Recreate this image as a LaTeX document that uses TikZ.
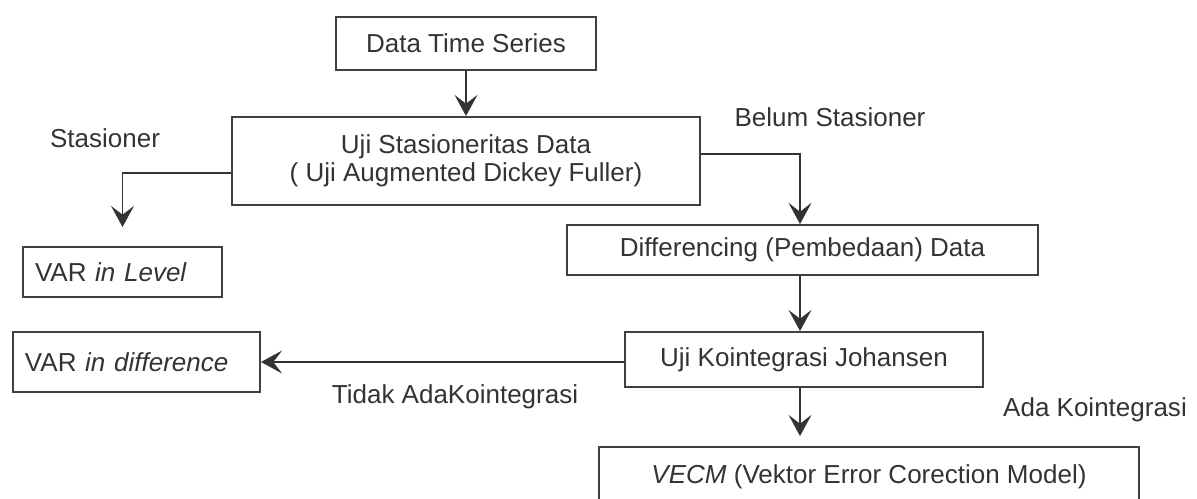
\documentclass[tikz,border=0pt]{standalone}
\usepackage{fontspec}
\setmainfont{Liberation Sans}
\usetikzlibrary{arrows.meta}

\begin{document}
\begin{tikzpicture}
\tikzstyle{box}=[draw=black!75,line width=1.1pt,inner sep=0pt,align=center,text=black!80,font=\fontsize{14.8}{16}\selectfont]
\tikzstyle{lbl}=[inner sep=0pt,text=black!80,font=\fontsize{14.8}{16}\selectfont]
\tikzstyle{arr}=[draw=black!80,line width=1.1pt,-{Stealth[length=12pt,width=13pt,inset=5pt]}]
\useasboundingbox (0,0) rectangle (23.94,-9.96);
\clip (0,0) rectangle (23.94,-9.96);
\node [box,minimum width=5.2cm,minimum height=1.06cm] (dts) at (9.32,-0.87) {Data Time Series};
\node [box,minimum width=9.36cm,minimum height=1.76cm] (uji) at (9.32,-3.22) {Uji Stasioneritas Data\\( Uji Augmented Dickey Fuller)};
\node [box,text width=3.5cm,inner xsep=0.24cm,minimum height=1.0cm,align=left] (lvl) at (2.45,-5.44) {VAR \textit{in Level}};
\node [box,minimum width=9.42cm,minimum height=1.0cm] (diff) at (16.05,-5.0) {Differencing (Pembedaan) Data};
\node [box,minimum width=7.16cm,minimum height=1.1cm] (joh) at (16.08,-7.19) {Uji Kointegrasi Johansen};
\node [box,text width=4.46cm,inner xsep=0.24cm,minimum height=1.2cm,align=left] (dif) at (2.73,-7.24) {VAR \textit{in difference}};
\node [box,minimum width=10.8cm,minimum height=1.2cm] (vecm) at (17.38,-9.54) {\textit{VECM} (Vektor Error Corection Model)};
\node [lbl] (stas) at (2.10,-2.76) {Stasioner};
\node [lbl] (belum) at (16.6,-2.34) {Belum Stasioner};
\node [lbl] (tidak) at (9.1,-7.94) {Tidak AdaKointegrasi};
\node [lbl] (ada) at (21.9,-8.2) {Ada Kointegrasi};
\draw [arr] (dts) -- (uji);
\draw [arr,shorten >=0.38cm] ([yshift=-0.24cm]uji.west) -| (lvl.north);
\draw [arr] ([yshift=0.14cm]uji.east) -| ([xshift=-0.05cm]diff.north);
\draw [arr] ([xshift=-0.05cm]diff.south) -- ([xshift=-0.05cm]diff.south |- joh.north);
\draw [arr] (joh.west |- dif.east) -- (dif.east);
\draw [arr,shorten >=0.2cm] ([xshift=-0.08cm]joh.south) -- ([xshift=-0.08cm]joh.south |- vecm.north);
\end{tikzpicture}
\end{document}
